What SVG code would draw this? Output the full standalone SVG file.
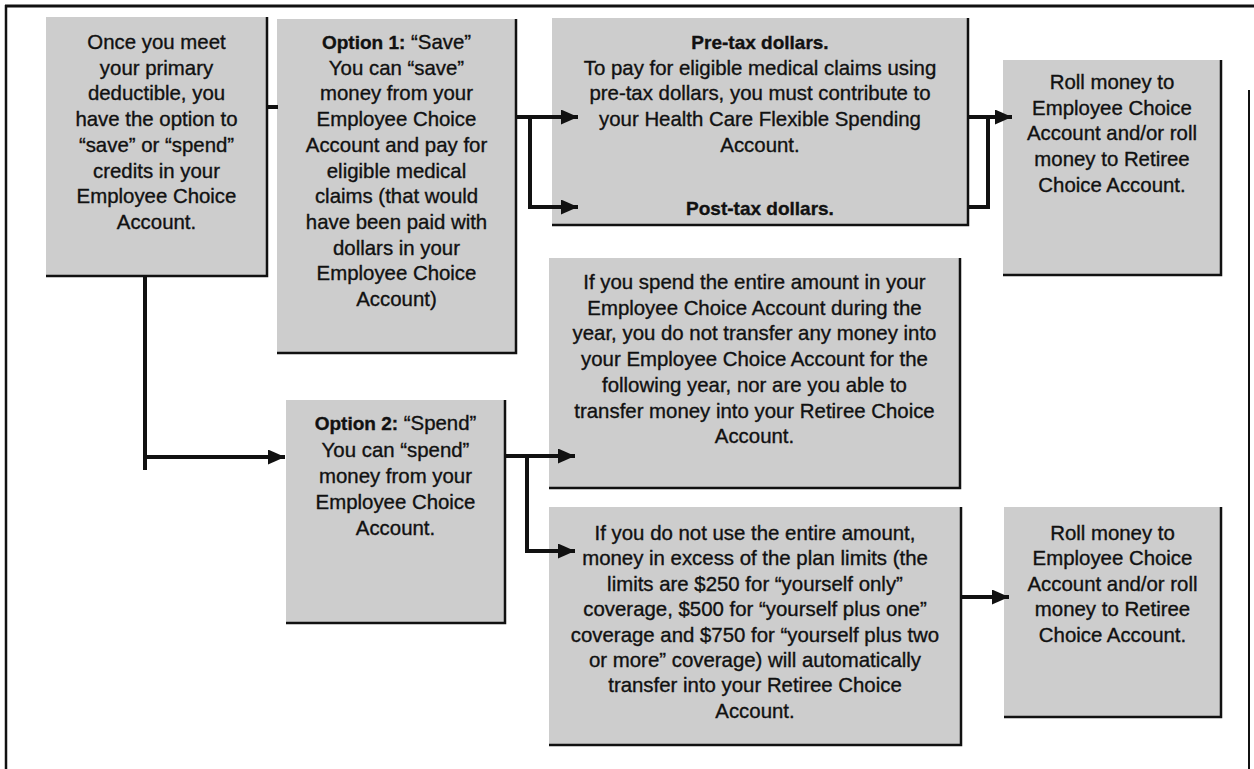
<svg xmlns="http://www.w3.org/2000/svg" width="1254" height="769" viewBox="0 0 1254 769">
<defs>
<marker id="ah" markerUnits="userSpaceOnUse" markerWidth="17" markerHeight="15" refX="17" refY="7.5" orient="auto">
<path d="M0,0 L17,7.5 L0,15 Z" fill="#111"/>
</marker>
</defs>
<style>
.bx{fill:#cdcdcd}
.ed{fill:none;stroke:#111;stroke-width:2.5}
.t{font-family:"Liberation Sans",Arial,sans-serif;font-size:20.4px;fill:#111;stroke:#111;stroke-width:0.35;text-anchor:middle}
.b{font-weight:bold;font-size:19px}
.c{fill:none;stroke:#111;stroke-width:4}
.fr{fill:none;stroke:#111}
</style>
<rect width="1254" height="769" fill="#fff"/>
<g id="frame">
<line class="fr" x1="5" y1="6" x2="1254" y2="6" stroke-width="3"/>
<line class="fr" x1="6" y1="5" x2="6" y2="769" stroke-width="2.5"/>
<line class="fr" x1="1249" y1="90" x2="1249" y2="769" stroke-width="2"/>
</g>
<g id="nodeA">
<rect class="bx" x="46" y="17" width="221" height="259"/>
<polyline class="ed" points="267,17 267,276 46,276"/>
<text class="t"><tspan x="156.5" y="49">Once you meet</tspan><tspan x="156.5" y="74.7">your primary</tspan><tspan x="156.5" y="100.4">deductible, you</tspan><tspan x="156.5" y="126.1">have the option to</tspan><tspan x="156.5" y="151.8">“save” or “spend”</tspan><tspan x="156.5" y="177.5">credits in your</tspan><tspan x="156.5" y="203.2">Employee Choice</tspan><tspan x="156.5" y="228.9">Account.</tspan></text>
</g>
<g id="nodeB">
<rect class="bx" x="277" y="19" width="239" height="334"/>
<polyline class="ed" points="516,19 516,353 277,353"/>
<text class="t"><tspan x="396.5" y="49"><tspan class="b">Option 1:</tspan> “Save”</tspan><tspan x="396.5" y="74.7">You can “save”</tspan><tspan x="396.5" y="100.4">money from your</tspan><tspan x="396.5" y="126.1">Employee Choice</tspan><tspan x="396.5" y="151.8">Account and pay for</tspan><tspan x="396.5" y="177.5">eligible medical</tspan><tspan x="396.5" y="203.2">claims (that would</tspan><tspan x="396.5" y="228.9">have been paid with</tspan><tspan x="396.5" y="254.6">dollars in your</tspan><tspan x="396.5" y="280.3">Employee Choice</tspan><tspan x="396.5" y="306">Account)</tspan></text>
</g>
<g id="nodePreTax">
<rect class="bx" x="552" y="18" width="416" height="207"/>
<polyline class="ed" points="968,18 968,225 552,225"/>
<text class="t"><tspan class="b" x="760" y="49">Pre-tax dollars.</tspan><tspan x="760" y="74.7">To pay for eligible medical claims using</tspan><tspan x="760" y="100.4">pre-tax dollars, you must contribute to</tspan><tspan x="760" y="126.1">your Health Care Flexible Spending</tspan><tspan x="760" y="151.8">Account.</tspan><tspan class="b" x="760" y="215">Post-tax dollars.</tspan></text>
</g>
<g id="nodeRoll1">
<rect class="bx" x="1003" y="60" width="218" height="215"/>
<polyline class="ed" points="1221,60 1221,275 1003,275"/>
<text class="t"><tspan x="1112" y="89">Roll money to</tspan><tspan x="1112" y="114.7">Employee Choice</tspan><tspan x="1112" y="140.4">Account and/or roll</tspan><tspan x="1112" y="166.1">money to Retiree</tspan><tspan x="1112" y="191.8">Choice Account.</tspan></text>
</g>
<g id="nodeD">
<rect class="bx" x="549" y="258" width="411" height="230"/>
<polyline class="ed" points="960,258 960,488 549,488"/>
<text class="t"><tspan x="754.5" y="289">If you spend the entire amount in your</tspan><tspan x="754.5" y="314.7">Employee Choice Account during the</tspan><tspan x="754.5" y="340.4">year, you do not transfer any money into</tspan><tspan x="754.5" y="366.1">your Employee Choice Account for the</tspan><tspan x="754.5" y="391.8">following year, nor are you able to</tspan><tspan x="754.5" y="417.5">transfer money into your Retiree Choice</tspan><tspan x="754.5" y="443.2">Account.</tspan></text>
</g>
<g id="nodeC">
<rect class="bx" x="286" y="400" width="219" height="223"/>
<polyline class="ed" points="505,400 505,623 286,623"/>
<text class="t"><tspan x="395.5" y="430"><tspan class="b">Option 2:</tspan> “Spend”</tspan><tspan x="395.5" y="456.7">You can “spend”</tspan><tspan x="395.5" y="483.4">money from your</tspan><tspan x="395.5" y="509.1">Employee Choice</tspan><tspan x="395.5" y="534.8">Account.</tspan></text>
</g>
<g id="nodeE">
<rect class="bx" x="549" y="507" width="412" height="238"/>
<polyline class="ed" points="961,507 961,745 549,745"/>
<text class="t"><tspan x="755" y="540">If you do not use the entire amount,</tspan><tspan x="755" y="565.4">money in excess of the plan limits (the</tspan><tspan x="755" y="590.8">limits are $250 for “yourself only”</tspan><tspan x="755" y="616.2">coverage, $500 for “yourself plus one”</tspan><tspan x="755" y="641.6">coverage and $750 for “yourself plus two</tspan><tspan x="755" y="667">or more” coverage) will automatically</tspan><tspan x="755" y="692.4">transfer into your Retiree Choice</tspan><tspan x="755" y="717.8">Account.</tspan></text>
</g>
<g id="nodeRoll2">
<rect class="bx" x="1004" y="507" width="217" height="210"/>
<polyline class="ed" points="1221,507 1221,717 1004,717"/>
<text class="t"><tspan x="1112.5" y="540">Roll money to</tspan><tspan x="1112.5" y="565.4">Employee Choice</tspan><tspan x="1112.5" y="590.8">Account and/or roll</tspan><tspan x="1112.5" y="616.2">money to Retiree</tspan><tspan x="1112.5" y="641.6">Choice Account.</tspan></text>
</g>
<g id="connectors">
<line class="c" x1="266" y1="107" x2="278" y2="107"/>
<polyline class="c" points="145,276 145,470"/>
<line class="c" x1="145" y1="457" x2="285" y2="457" marker-end="url(#ah)"/>
<line class="c" x1="515" y1="117" x2="578" y2="117" marker-end="url(#ah)"/>
<polyline class="c" points="530,117 530,207 578,207" marker-end="url(#ah)"/>
<line class="c" x1="967" y1="117" x2="1012" y2="117" marker-end="url(#ah)"/>
<polyline class="c" points="967,207 988,207 988,115"/>
<line class="c" x1="504" y1="456" x2="575" y2="456" marker-end="url(#ah)"/>
<polyline class="c" points="527,456 527,551 575,551" marker-end="url(#ah)"/>
<line class="c" x1="960" y1="597" x2="1009" y2="597" marker-end="url(#ah)"/>
</g>
</svg>
